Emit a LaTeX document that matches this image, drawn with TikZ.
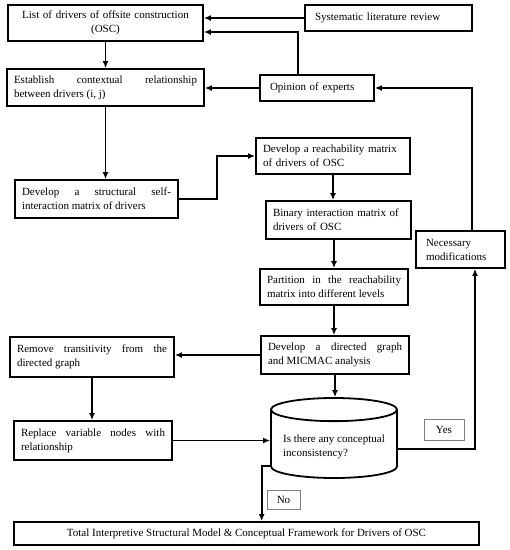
\documentclass[tikz,border=0pt]{standalone}
\usepackage{fontspec}
\setmainfont{Liberation Serif}
\usetikzlibrary{arrows.meta,shapes.geometric}

\begin{document}
\begin{tikzpicture}[x=1pt,y=-1pt,
  box/.style={draw, line width=1.8pt, inner xsep=7pt, inner ysep=2pt, font=\fontsize{11}{14}\selectfont},
  arr/.style={line width=1.9pt, -{Latex[length=7pt,width=6pt]}},
  tag/.style={draw=gray, line width=0.7pt, inner sep=2pt, font=\fontsize{11}{14}\selectfont}]
\useasboundingbox (0,0) rectangle (510,550);
% boxes
\node [box, text width=181pt, minimum height=36pt, align=center] (list) at (105.5,23) {List of drivers of offsite construction\\(OSC)};
\node [box, text width=153pt, minimum height=26pt, align=left] (slr) at (388.5,18) {\hspace*{3pt}Systematic literature review};
\node [box, text width=183pt, minimum height=37pt, align=justify] (est) at (105.5,87.5) {Establish contextual relationship\linebreak between drivers (i, j)};
\node [box, text width=100pt, minimum height=26pt, align=left] (opin) at (317,88) {\hspace*{3pt}Opinion of experts};
\node [box, text width=149pt, minimum height=38pt, align=justify] (ssim) at (96.5,199) {Develop a structural self-\linebreak interaction matrix of drivers};
\node [box, text width=140pt, minimum height=36pt, align=left] (reach) at (333,156) {Develop a reachability matrix\\of drivers of OSC};
\node [box, text width=131pt, minimum height=38pt, align=left] (binary) at (338.5,220) {Binary interaction matrix of\\drivers of OSC};
\node [box, text width=75pt, minimum height=37pt, align=left] (nec) at (460.5,249.5) {\hspace*{3pt}Necessary\\\hspace*{3pt}modifications};
\node [box, text width=134pt, minimum height=36pt, align=justify] (part) at (334,287) {Partition in the reachability\linebreak matrix into different levels};
\node [box, text width=134pt, minimum height=38pt, align=justify] (dgraph) at (335,355) {Develop a directed graph\linebreak and MICMAC analysis};
\node [box, text width=150pt, minimum height=40pt, align=justify] (remove) at (92,357) {Remove transitivity from the\linebreak directed graph};
\node [box, text width=144pt, minimum height=39pt, align=justify] (replace) at (93,440.5) {Replace variable nodes with\linebreak relationship};
\node [box, cylinder, shape border rotate=90, aspect=0.2, minimum width=126pt, minimum height=80pt, align=left, anchor=shape center] (cyl) at (334,438) {Is there any conceptual\\inconsistency?};
\node [tag, minimum width=40pt, minimum height=21pt] (yes) at (444,429.5) {Yes};
\node [tag, minimum width=33pt, minimum height=19pt] (no) at (283.5,499.5) {No};
\node [box, minimum width=465pt, minimum height=23pt] (total) at (246.5,533.5) {Total Interpretive Structural Model \& Conceptual Framework for Drivers of OSC};
% connectors
\draw [arr] (slr) -- (slr -| list.east);
\draw [arr] ([xshift=-19pt]opin.north) |- ([yshift=-9pt]list.east);
\draw [arr] (opin) -- (opin -| est.east);
\draw [arr] (list.south) -- (est.north);
\draw [arr] (est.south) -- (est.south |- ssim.north);
\draw [arr] (ssim.east) -- ++(38,0) |- (reach.west);
\draw [arr] (reach.south) -- (reach.south |- binary.north);
\draw [arr] (part.north |- binary.south) -- (part.north);
\draw [arr] (part.south) -- (part.south |- dgraph.north);
\draw [arr] (dgraph.west) -- (dgraph.west -| remove.east);
\draw [arr] (dgraph.south) -- (dgraph.south |- cyl.north);
\draw [arr] (remove.south) -- (remove.south |- replace.north);
\draw [arr] (replace.east) -- (replace.east -| cyl.west);
\draw [arr] ([yshift=-2pt]cyl.east) -| ([xshift=14.5pt]nec.south);
\draw [arr] ([xshift=11.5pt]nec.north) |- (opin.east);
\draw [arr] (cyl.after bottom) -| ([xshift=-5pt]no.west |- total.north);
\end{tikzpicture}
\end{document}
